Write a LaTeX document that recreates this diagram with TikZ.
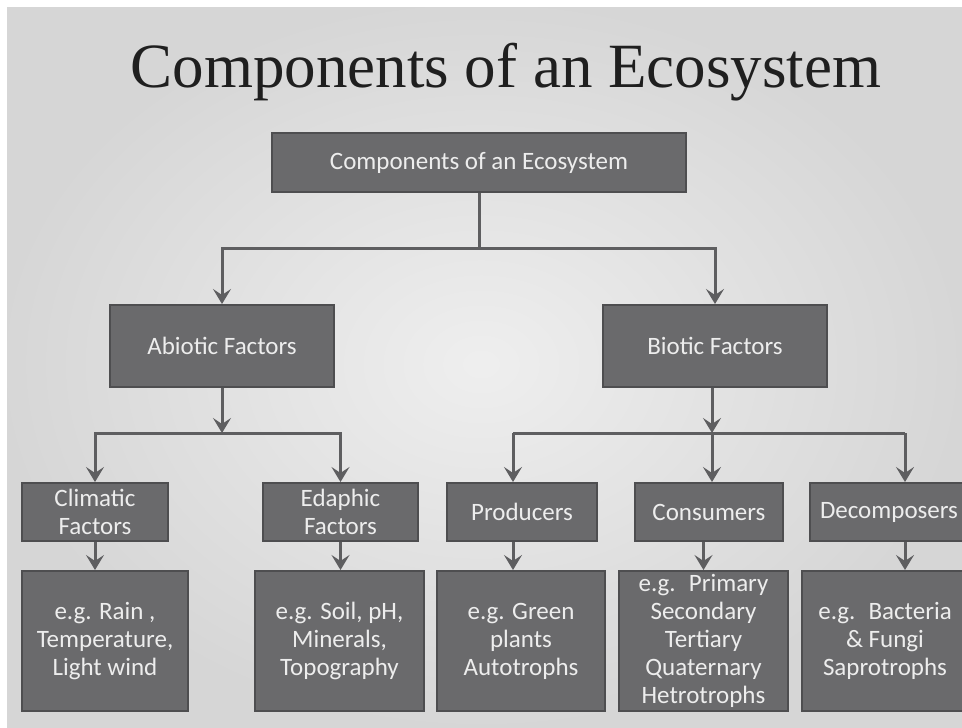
\documentclass[tikz,border=0pt]{standalone}
\usepackage{fontspec}
\setmainfont{Carlito}
\newfontfamily\titlefont{Liberation Serif}
\usepackage{xcolor}
\usepackage{tikz}
\usetikzlibrary{arrows.meta}

\definecolor{boxgrey}{HTML}{6A6A6C}
\definecolor{edgegrey}{HTML}{4E4E50}
\definecolor{linegrey}{HTML}{5E5E60}
\definecolor{textwhite}{HTML}{EDEDED}

\begin{document}
\begin{tikzpicture}[x=1pt,y=-1pt,
  box/.style={rectangle,draw=edgegrey,line width=2pt,fill=boxgrey,text=textwhite,
    align=center,inner sep=0pt,font=\fontsize{25}{28}\selectfont},
  link/.style={draw=linegrey,line width=3pt},
  arr/.style={link,-{Stealth[length=15pt,width=18pt,inset=6pt]}}]
\useasboundingbox (0,0) rectangle (962,728);
% background
\shade[inner color=gray!13,outer color=gray!32] (0,0) rectangle (962,728);
\fill[white] (0,0) rectangle (7,728);
\fill[white] (0,0) rectangle (962,7);
\node (title) at (506,72) [text=black!88,font=\titlefont\fontsize{63}{70}\selectfont] {Components of an Ecosystem};

% boxes
\node (top) at (479,162.5) [box,minimum width=414,minimum height=59] {Components of an Ecosystem};
\node (abiotic) at (222,346) [box,minimum width=224,minimum height=82] {Abiotic Factors};
\node (biotic) at (715,346) [box,minimum width=224,minimum height=82] {Biotic Factors};
\node (clim) at (95,512) [box,minimum width=146,minimum height=58] {Climatic\\Factors};
\node (edaph) at (340.5,512) [box,minimum width=155,minimum height=58] {Edaphic\\Factors};
\node (prod) at (522,512) [box,minimum width=150,minimum height=58] {Producers};
\node (cons) at (709,512) [box,minimum width=148,minimum height=58] {Consumers};
\node (decomp) at (889,512) [box,minimum width=158,minimum height=58] {Decomposers};
\node (climeg) at (105,641) [box,minimum width=166,minimum height=140] {e.g. Rain ,\\Temperature,\\Light wind};
\node (edapheg) at (339.5,641) [box,minimum width=169,minimum height=140] {e.g. Soil, pH,\\Minerals,\\Topography};
\node (prodeg) at (521,641) [box,minimum width=168,minimum height=140] {e.g. Green\\plants\\Autotrophs};
\node (conseg) at (703.5,641) [box,minimum width=169,minimum height=140] {e.g.~ Primary\\Secondary\\Tertiary\\Quaternary\\Hetrotrophs};
\node (decompeg) at (885,641) [box,minimum width=166,minimum height=140] {e.g.~ Bacteria\\\& Fungi\\Saprotrophs};

% junctions
\coordinate (j1) at (479,248);
\coordinate (j2) at (222,433);
\coordinate (j3) at (712,433);
\coordinate (pb) at (513,433);
\coordinate (db) at (905,433);

% connectors
\draw[link] (top.south) -- (j1);
\draw[arr] (j1) -| (abiotic.north);
\draw[arr] (j1) -| (biotic.north);
\draw[arr] (abiotic.south) -- (j2);
\draw[arr] (j2) -| (clim.north);
\draw[arr] (j2) -| (edaph.north);
\draw[arr] (biotic.south -| j3) -- (j3);
\draw[link] (pb) -- (db);
\draw[arr] (pb) -- (pb |- prod.north);
\draw[arr] (j3) -- (j3 |- cons.north);
\draw[arr] (db) -- (db |- decomp.north);
\draw[arr] (clim.south) -- (clim.south |- climeg.north);
\draw[arr] (edaph.south) -- (edaph.south |- edapheg.north);
\draw[arr] (pb |- prod.south) -- (pb |- prodeg.north);
\draw[arr] (cons.south -| conseg.north) -- (conseg.north);
\draw[arr] (db |- decomp.south) -- (db |- decompeg.north);
\end{tikzpicture}
\end{document}
